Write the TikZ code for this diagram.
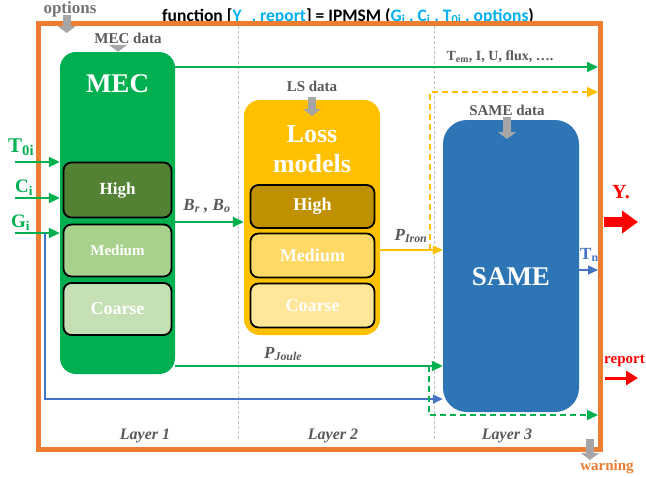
\documentclass[tikz,border=0pt]{standalone}
\usepackage{fontspec}
\setmainfont{Liberation Serif}
\newfontfamily\titlefont{Carlito}
\usetikzlibrary{arrows.meta}
\definecolor{frameorange}{HTML}{ED7D31}
\definecolor{mecgreen}{HTML}{00B050}
\definecolor{mechigh}{HTML}{548235}
\definecolor{mecmed}{HTML}{A9D18E}
\definecolor{meccoarse}{HTML}{C5E0B4}
\definecolor{lossyellow}{HTML}{FFC000}
\definecolor{losshigh}{HTML}{BF9000}
\definecolor{lossmed}{HTML}{FFD966}
\definecolor{losscoarse}{HTML}{FFE699}
\definecolor{sameblue}{HTML}{2E75B6}
\definecolor{lineblue}{HTML}{4472C4}
\definecolor{txtgray}{HTML}{595959}
\definecolor{arrgray}{HTML}{A6A6A6}
\definecolor{sepgray}{HTML}{BFBFBF}
\definecolor{titleblue}{HTML}{00B0F0}
\definecolor{outred}{HTML}{FF0000}
\newcommand\fs[1]{\fontsize{#1}{#1}\selectfont}
\begin{document}
\begin{tikzpicture}[x=1pt,y=-1pt,font=\bfseries,
  subbox/.style={draw=black, line width=1.8pt, rounded corners=8pt, inner sep=0, text=white, font=\bfseries\fs{17}},
  lbl/.style={text=txtgray, inner sep=0, anchor=base},
  garr/.style={draw=mecgreen, line width=2pt, -{Triangle[length=11pt,width=10pt]}},
  gdash/.style={draw=mecgreen, line width=1.5pt, dash pattern=on 6pt off 4pt, -{Triangle[length=11pt,width=10pt]}},
  barr/.style={draw=lineblue, line width=1.5pt, -{Triangle[length=10pt,width=9pt]}},
  yarr/.style={draw=lossyellow, line width=1.5pt, -{Triangle[length=10pt,width=9pt]}},
  ydash/.style={draw=lossyellow, line width=1.5pt, dash pattern=on 6pt off 4pt, -{Triangle[length=11pt,width=10pt]}},
  blockarr/.style={draw=arrgray, line width=8pt, -{Triangle[length=7pt,width=18pt]}},
  sepline/.style={draw=sepgray, line width=0.8pt, dash pattern=on 3pt off 2pt}]
\useasboundingbox (0,0) rectangle (646,477);
\fill[white] (0,0) rectangle (646,477);

% title and options
\node[anchor=base west, inner sep=0, font=\titlefont\bfseries\fs{17.5}] (title) at (162,21)
  {function [\textcolor{titleblue}{Y\kern-0.15em\_ , report}] = IPMSM (\textcolor{titleblue}{G\textsubscript{i} , C\textsubscript{i} , T\textsubscript{0i} , options})};
\node[lbl, font=\bfseries\fs{17}, text=arrgray!70!black] (opt) at (70,13) {options};

% frame
\node[draw=frameorange, line width=5pt, minimum width=562pt, minimum height=425.5pt, inner sep=0] (frame) at (319,236.25) {};

% layer separators
\draw[sepline] (238.5,26) -- (238.5,440);
\draw[sepline] (434,26) -- (434,440);

% MEC
\node[fill=mecgreen, rounded corners=16pt, minimum width=115pt, minimum height=322pt, inner sep=0] (mec) at (117.5,213) {};
\node[lbl, text=white, font=\bfseries\fs{27}] (mect) at (117.5,92) {MEC};
\node[subbox, fill=mechigh, minimum width=108pt, minimum height=55pt] (mech) at (117.5,190) {High};
\node[subbox, fill=mecmed, minimum width=108pt, minimum height=52pt, font=\bfseries\fs{15}] (mecm) at (117.5,250.5) {Medium};
\node[subbox, fill=meccoarse, minimum width=108pt, minimum height=52pt, font=\bfseries\fs{18}] (mecc) at (117.5,309) {Coarse};
\node[lbl, font=\bfseries\fs{15}] (mecd) at (128,43) {MEC data};

% Loss models
\node[fill=lossyellow, rounded corners=16pt, minimum width=136pt, minimum height=235pt, inner sep=0] (loss) at (312,217.5) {};
\node[lbl, text=white, font=\bfseries\fs{26}] (losst1) at (312,142) {Loss};
\node[lbl, text=white, font=\bfseries\fs{26}] (losst2) at (312,172) {models};
\node[subbox, fill=losshigh, minimum width=124pt, minimum height=43pt, font=\bfseries\fs{18}] (lossh) at (312.5,206.5) {High};
\node[subbox, fill=lossmed, minimum width=124pt, minimum height=44pt, font=\bfseries\fs{18}] (lossm) at (312.5,255.5) {Medium};
\node[subbox, fill=losscoarse, minimum width=124pt, minimum height=44pt, font=\bfseries\fs{18}] (lossc) at (312.5,305.5) {Coarse};
\node[lbl, font=\bfseries\fs{15}] (lsd) at (312,91) {LS data};

% SAME
\node[fill=sameblue, rounded corners=24pt, minimum width=136pt, minimum height=292pt, inner sep=0] (same) at (511,266) {};
\node[lbl, text=white, font=\bfseries\fs{27}] (samet) at (511,285) {SAME};
\node[lbl, font=\bfseries\fs{15}] (samed) at (507,115) {SAME data};

% data arrows
\coordinate (opt1) at (66.7,15); \coordinate (opt2) at (66.7,33);
\draw[blockarr] (opt1) -- (opt2);
\draw[blockarr] (118,46) -- (mec.north -| 118,0);
\draw[blockarr] (312,97) -- (312,116);
\draw[blockarr] (507,117) -- (507,139);
\coordinate (warn1) at (590,439); \coordinate (warn2) at (590,460);
\draw[blockarr] (warn1) -- (warn2);
\node[lbl, text=frameorange, font=\bfseries\fs{15}] (warn) at (607,470) {warning};

% inputs
\node[anchor=base west, inner sep=0, text=mecgreen, font=\bfseries\fs{21}] (t0i) at (8,152) {T\textsubscript{0i}};
\node[anchor=base west, inner sep=0, text=mecgreen, font=\bfseries\fs{19}] (ci) at (15,192) {C\textsubscript{i}};
\node[anchor=base west, inner sep=0, text=mecgreen, font=\bfseries\fs{19}] (gi) at (11,227) {G\textsubscript{i}};
\coordinate (in1) at (15,162); \coordinate (in2) at (15,198); \coordinate (in3) at (15,233);
\draw[garr] (in1) -- (in1 -| mec.west);
\draw[garr] (in2) -- (in2 -| mec.west);
\draw[garr] (in3) -- (in3 -| mec.west);

% blue bypass
\coordinate (b1) at (45,233); \coordinate (b2) at (45,399);
\draw[barr] (b1) -- (b2) -- (b2 -| same.west);

% top output
\coordinate (topout) at (598,67);
\draw[garr] (topout -| mec.east) -- (topout);
\node[lbl, font=\bfseries\fs{14}] (tem) at (500,60) {T\textsubscript{em}, I, U, flux, ….};

% Br Bo
\coordinate (bry) at (0,222);
\draw[garr] (bry -| mec.east) -- (bry -| loss.west);
\node[lbl, font=\bfseries\itshape\fs{17}] (brbo) at (207,210) {B\textsubscript{r} , B\textsubscript{o}};

% P Iron
\coordinate (iry) at (0,250);
\draw[yarr] (iry -| loss.east) -- (iry -| same.west);
\node[lbl, font=\bfseries\itshape\fs{17}] (piron) at (411,240) {P\textsubscript{Iron}};
\coordinate (yd1) at (430,250); \coordinate (yd2) at (430,92); \coordinate (yd3) at (598,92);
\draw[ydash] (yd1) -- (yd2) -- (yd3);

% P Joule
\coordinate (jy) at (0,366);
\draw[garr] (jy -| mec.east) -- (jy -| same.west);
\node[anchor=base west, inner sep=0, text=txtgray, font=\bfseries\itshape\fs{17}] (pjoule) at (264,358) {P\textsubscript{Joule}};
\coordinate (gd1) at (429,366); \coordinate (gd2) at (429,415); \coordinate (gd3) at (598,415);
\draw[gdash] (gd1) -- (gd2) -- (gd3);

% Tn
\coordinate (tnend) at (598,270);
\draw[barr] (tnend -| same.east) -- (tnend);
\node[anchor=base west, inner sep=0, text=lineblue, font=\bfseries\fs{17}] (tn) at (580,259) {T\textsubscript{n}};

% outputs
\coordinate (yo1) at (604,222); \coordinate (yo2) at (638,222);
\draw[draw=outred, line width=10pt, -{Triangle[length=16pt,width=22pt]}] (yo1) -- (yo2);
\node[lbl, text=outred, font=\bfseries\fs{20}] (yl) at (621,198) {Y.};
\coordinate (ro1) at (605,378); \coordinate (ro2) at (638,378);
\draw[draw=outred, line width=3pt, -{Triangle[length=12pt,width=14pt]}] (ro1) -- (ro2);
\node[anchor=base west, inner sep=0, text=outred, font=\bfseries\fs{15}] (rep) at (604,363) {report};

% layers
\node[lbl, font=\bfseries\itshape\fs{16}] (l1) at (145,439) {Layer 1};
\node[lbl, font=\bfseries\itshape\fs{16}] (l2) at (333,439) {Layer 2};
\node[lbl, font=\bfseries\itshape\fs{16}] (l3) at (507,439) {Layer 3};
\end{tikzpicture}
\end{document}
